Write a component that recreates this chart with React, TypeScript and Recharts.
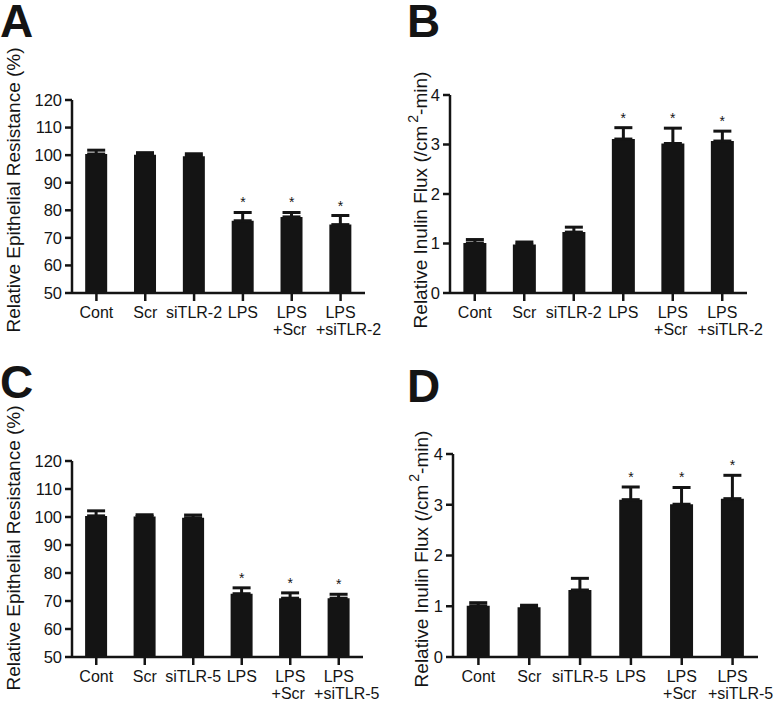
import React from "react";
import { ComposedChart, Bar, ErrorBar, Scatter, XAxis, YAxis, Label } from "recharts";

const categoriesTLR2 = ["Cont", "Scr", "siTLR-2", "LPS", "LPS\n+Scr", "LPS\n+siTLR-2"];
const categoriesTLR5 = ["Cont", "Scr", "siTLR-5", "LPS", "LPS\n+Scr", "LPS\n+siTLR-5"];

const resistanceA = [100.4, 100.1, 99.6, 76.2, 77.6, 74.8];
const resistanceAErr = [1.4, 0.8, 0.9, 3.0, 1.6, 3.3];
const fluxB = [1.01, 0.98, 1.23, 3.11, 3.02, 3.07];
const fluxBErr = [0.07, 0.05, 0.1, 0.23, 0.31, 0.2];
const resistanceC = [100.4, 100.2, 99.7, 72.6, 71.0, 71.0];
const resistanceCErr = [1.8, 0.6, 1.0, 2.1, 1.9, 1.4];
const fluxD = [1.01, 0.98, 1.32, 3.1, 3.01, 3.12];
const fluxDErr = [0.06, 0.04, 0.23, 0.25, 0.33, 0.46];
const significant = [false, false, false, true, true, true];

const resistanceTicks = [50, 60, 70, 80, 90, 100, 110, 120];
const fluxTicks = [0, 1, 2, 3, 4];

const FONT = "'Liberation Sans', Arial, Helvetica, sans-serif";
const INK = "#141414";

// second line of the long labels sits a little to the right, like the original
const CategoryTick = ({ x, y, payload }: any) => {
  const lines = String(payload.value).split("\n");
  const shift = lines[1] && lines[1].length > 5 ? 8 : -2;
  return (
    <text x={x} y={y} fontSize={16} fill={INK} fontFamily={FONT} textAnchor="middle">
      <tspan x={x} dy={15}>
        {lines[0]}
      </tspan>
      {lines[1] && (
        <tspan x={x + shift} dy={17}>
          {lines[1]}
        </tspan>
      )}
    </text>
  );
};

const Star = (props: any) => {
  const { cx, cy, payload } = props;
  if (payload == null || payload.starY == null) return <g />;
  return (
    <text x={cx} y={cy - 5} textAnchor="middle" fontSize={14} fill={INK} fontFamily={FONT}>
      *
    </text>
  );
};

const resistanceLabel = (cx: number, cy: number) => () => (
  <text
    x={cx}
    y={cy}
    transform={`rotate(-90 ${cx} ${cy})`}
    textAnchor="middle"
    dominantBaseline="central"
    fontSize={19}
    fill={INK}
    fontFamily={FONT}
  >
    Relative Epithelial Resistance (%)
  </text>
);

const fluxLabel = (cx: number, cy: number) => () => (
  <text
    x={cx}
    y={cy}
    transform={`rotate(-90 ${cx} ${cy})`}
    textAnchor="middle"
    dominantBaseline="central"
    fontSize={19}
    fill={INK}
    fontFamily={FONT}
  >
    Relative Inulin Flux (/cm
    <tspan dx={3} dy={-7} fontSize={14}>
      2
    </tspan>
    <tspan dy={7}>-min)</tspan>
  </text>
);

type PanelProps = {
  left: number;
  top: number;
  width: number;
  height: number;
  margin: { top: number; right: number; left: number; bottom: number };
  yWidth: number;
  xHeight: number;
  domain: [number, number];
  ticks: number[];
  categories: string[];
  values: number[];
  errors: number[];
  label: () => React.ReactElement;
};

const Panel = (p: PanelProps) => {
  const data = p.categories.map((name, i) => ({
    name,
    value: p.values[i],
    err: [0, p.errors[i]],
    starY: significant[i] ? p.values[i] + p.errors[i] : null,
  }));
  const axisStyle = { stroke: INK, strokeWidth: 2.5 };
  return (
    <div style={{ position: "absolute", left: p.left, top: p.top }}>
      <ComposedChart
        width={p.width}
        height={p.height}
        data={data}
        margin={p.margin}
        barCategoryGap="27%"
        style={{ overflow: "visible" }}
      >
        <XAxis
          dataKey="name"
          height={p.xHeight}
          axisLine={axisStyle}
          tickLine={axisStyle}
          tickSize={8}
          tickMargin={2}
          interval={0}
          tick={<CategoryTick />}
        />
        <YAxis
          type="number"
          width={p.yWidth}
          domain={p.domain}
          ticks={p.ticks}
          allowDataOverflow
          axisLine={axisStyle}
          tickLine={axisStyle}
          tickSize={7}
          tickMargin={3}
          tick={{ fontSize: 16.5, fill: INK, fontFamily: FONT }}
        >
          <Label content={p.label} />
        </YAxis>
        <Bar dataKey="value" fill={INK} isAnimationActive={false}>
          <ErrorBar dataKey="err" direction="y" width={9} strokeWidth={3} stroke={INK} />
        </Bar>
        <Scatter dataKey="starY" fill={INK} shape={<Star />} isAnimationActive={false} />
      </ComposedChart>
    </div>
  );
};

export default function App() {
  return (
    <div
      style={{
        position: "absolute",
        left: 0,
        top: 0,
        width: 774,
        height: 707,
        background: "#fff",
        overflow: "hidden",
        fontFamily: FONT,
      }}
    >
      <Panel
        left={0}
        top={0}
        width={387}
        height={350}
        margin={{ top: 100, right: 22, left: 0, bottom: 0 }}
        yWidth={72}
        xHeight={57}
        domain={[50, 120]}
        ticks={resistanceTicks}
        categories={categoriesTLR2}
        values={resistanceA}
        errors={resistanceAErr}
        label={resistanceLabel(13, 190)}
      />
      <Panel
        left={387}
        top={0}
        width={387}
        height={350}
        margin={{ top: 95, right: 27, left: 0, bottom: 0 }}
        yWidth={63}
        xHeight={57}
        domain={[0, 4]}
        ticks={fluxTicks}
        categories={categoriesTLR2}
        values={fluxB}
        errors={fluxBErr}
        label={fluxLabel(33, 200)}
      />
      <Panel
        left={0}
        top={350}
        width={387}
        height={357}
        margin={{ top: 111, right: 24, left: 0, bottom: 0 }}
        yWidth={72}
        xHeight={50}
        domain={[50, 120]}
        ticks={resistanceTicks}
        categories={categoriesTLR5}
        values={resistanceC}
        errors={resistanceCErr}
        label={resistanceLabel(13, 198)}
      />
      <Panel
        left={387}
        top={350}
        width={387}
        height={357}
        margin={{ top: 104, right: 16, left: 0, bottom: 0 }}
        yWidth={66}
        xHeight={50}
        domain={[0, 4]}
        ticks={fluxTicks}
        categories={categoriesTLR5}
        values={fluxD}
        errors={fluxDErr}
        label={fluxLabel(34, 209)}
      />
      <svg
        width={774}
        height={707}
        style={{ position: "absolute", left: 0, top: 0, pointerEvents: "none" }}
      >
        <g fontFamily={FONT} fontWeight="bold" fontSize={46} fill={INK}>
          <text x={0} y={37}>A</text>
          <text x={407} y={37}>B</text>
          <text x={0} y={398}>C</text>
          <text x={407} y={402}>D</text>
        </g>
      </svg>
    </div>
  );
}
